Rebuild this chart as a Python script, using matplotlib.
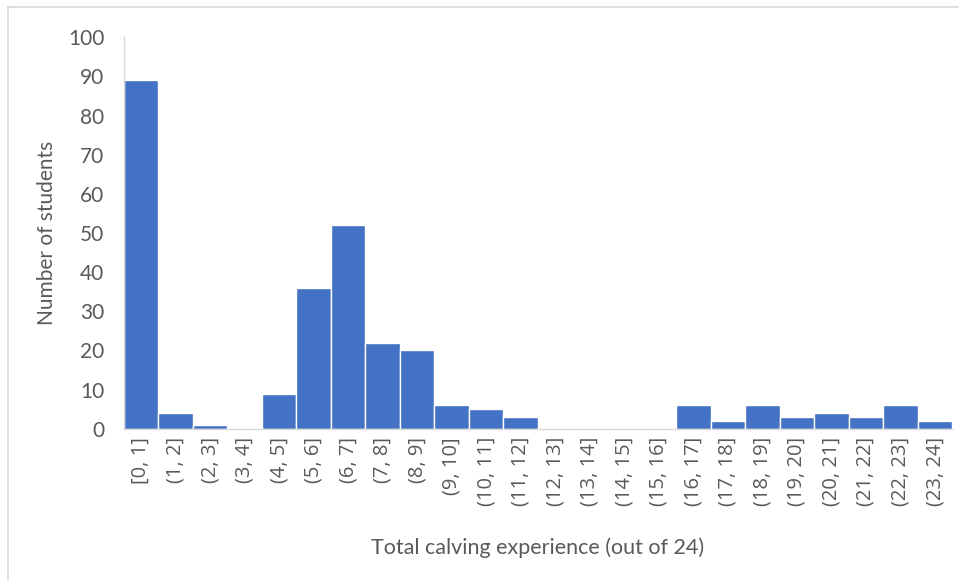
import matplotlib
matplotlib.use("Agg")
import matplotlib.pyplot as plt
from matplotlib.lines import Line2D

# Histogram of total calving experience, counts per bin
bins = ["[0, 1]", "(1, 2]", "(2, 3]", "(3, 4]", "(4, 5]", "(5, 6]", "(6, 7]", "(7, 8]",
        "(8, 9]", "(9, 10]", "(10, 11]", "(11, 12]", "(12, 13]", "(13, 14]", "(14, 15]",
        "(15, 16]", "(16, 17]", "(17, 18]", "(18, 19]", "(19, 20]", "(20, 21]", "(21, 22]",
        "(22, 23]", "(23, 24]"]
counts = [89, 4, 1, 0, 9, 36, 52, 22, 20, 6, 5, 3, 0, 0, 0, 0, 6, 2, 6, 3, 4, 3, 6, 2]
yticks = [0, 10, 20, 30, 40, 50, 60, 70, 80, 90, 100]

BLUE = "#4472C4"
AXIS = "#D9D9D9"
TEXT = "#595959"

plt.rcParams["font.family"] = ["Lato", "DejaVu Sans"]

fig = plt.figure(figsize=(9.59, 5.81), dpi=100)
ax = fig.add_axes([0.129, 0.262, 0.864, 0.674])

x = list(range(len(bins)))
ax.bar(x, counts, width=1.0, color=BLUE, edgecolor="white", linewidth=1.0)

ax.set_xlim(-0.5, len(bins) - 0.5)
ax.set_ylim(0, 100)
ax.set_yticks(yticks)
ax.set_xticks(x)
ax.set_xticklabels(bins, rotation=90, fontsize=14.5, color=TEXT,
                   family=["Open Sans", "DejaVu Sans"])
ax.tick_params(axis="y", labelsize=15, colors=TEXT, length=0, pad=14)
ax.tick_params(axis="x", length=0, pad=6)

for side in ["top", "right"]:
    ax.spines[side].set_visible(False)
ax.spines["left"].set_color(AXIS)
ax.spines["bottom"].set_color(AXIS)
ax.spines["left"].set_linewidth(1.0)
ax.spines["bottom"].set_linewidth(1.0)

ax.set_ylabel("Number of students", fontsize=15, color=TEXT, labelpad=8)
ax.set_xlabel("Total calving experience (out of 24)", fontsize=15.5, color=TEXT, labelpad=22)

# chart-area frame: only the top and left edges fall inside the image
fig.lines.append(Line2D([0.0085, 0.0085], [0.0, 0.988], transform=fig.transFigure,
                        color=AXIS, linewidth=1.2))
fig.lines.append(Line2D([0.0085, 1.0], [0.988, 0.988], transform=fig.transFigure,
                        color=AXIS, linewidth=1.2))

fig.savefig("out.png", dpi=100)
